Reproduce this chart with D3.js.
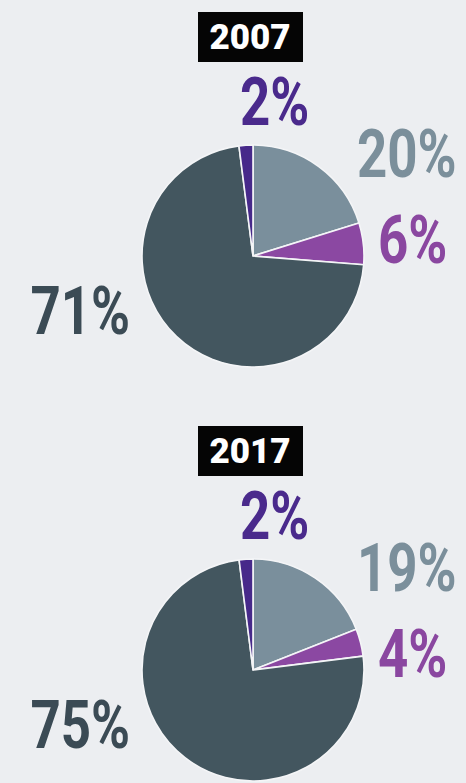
<!DOCTYPE html>
<html>
<head>
<meta charset="utf-8">
<script src="https://cdn.jsdelivr.net/npm/d3@7/dist/d3.min.js"></script>
<style>
  html, body { margin: 0; padding: 0; background: #eceef1; overflow: hidden; }
  svg { display: block; }
</style>
</head>
<body>
<svg id="chart" width="466" height="783"></svg>
<script>
// DATA
var years = ["2007", "2017"];
var categories = ["light", "purple", "dark", "violet"];
var values2007 = [20, 6, 71, 2];
var values2017 = [19, 4, 75, 2];
var series = [values2007, values2017];

// Colours per category
var sliceColor = d3.scaleOrdinal()
  .domain(categories)
  .range(["#7a8f9c", "#8b48a2", "#43565f", "#47298a"]);
var labelColor = d3.scaleOrdinal()
  .domain(categories)
  .range(["#7b8f9b", "#8a47a0", "#3b4b55", "#4a2a8c"]);

// Layout
var width = 466, height = 783;
var r = 111;
var cx = 253;
var cy = [256, 670];
var labelScaleX = 0.8;
// label offsets from pie centre (per category), anchor
var labelPos = {
  light:  { dx: 104, dy: -79, anchor: "start" },
  purple: { dx: 125, dy: 7, anchor: "start" },
  dark:   { dx: -123, dy: 78, anchor: "end" },
  violet: { dx: -13, dy: -131, anchor: "start" }
};

var svg = d3.select("#chart");

var pie = d3.pie().sort(null).value(function (d) { return d.value; });
var arc = d3.arc().innerRadius(0).outerRadius(r);

years.forEach(function (year, i) {
  var data = categories.map(function (c, j) { return { cat: c, value: series[i][j] }; });
  var g = svg.append("g").attr("transform", "translate(" + cx + "," + cy[i] + ")");

  // slices
  g.selectAll("path.slice")
    .data(pie(data))
    .join("path")
    .attr("class", "slice")
    .attr("d", arc)
    .attr("fill", function (d) { return sliceColor(d.data.cat); })
    .attr("stroke", "#f4f5f7")
    .attr("stroke-width", 1.6)
    .attr("stroke-linejoin", "round");

  // percentage labels
  g.selectAll("text.pct")
    .data(data)
    .join("text")
    .attr("class", "pct")
    .attr("transform", function (d) {
      var p = labelPos[d.cat];
      return "translate(" + p.dx + "," + p.dy + ") scale(" + labelScaleX + ",1)";
    })
    .attr("text-anchor", function (d) { return labelPos[d.cat].anchor; })
    .attr("font-family", "Roboto, 'DejaVu Sans', sans-serif")
    .attr("font-weight", 700)
    .attr("font-size", 66)
    .attr("fill", function (d) { return labelColor(d.cat); })
    .text(function (d) { return d.value + "%"; });

  // year badge
  var badge = g.append("g").attr("transform", "translate(0," + (-219) + ")");
  badge.append("rect")
    .attr("x", -55).attr("y", -25)
    .attr("width", 105).attr("height", 50)
    .attr("fill", "#050505");
  badge.append("text")
    .attr("x", -3).attr("y", 12)
    .attr("text-anchor", "middle")
    .attr("font-family", "Roboto, 'DejaVu Sans', sans-serif")
    .attr("font-weight", 900)
    .attr("font-size", 35)
    .attr("fill", "#ffffff")
    .text(year);
});
</script>
</body>
</html>
